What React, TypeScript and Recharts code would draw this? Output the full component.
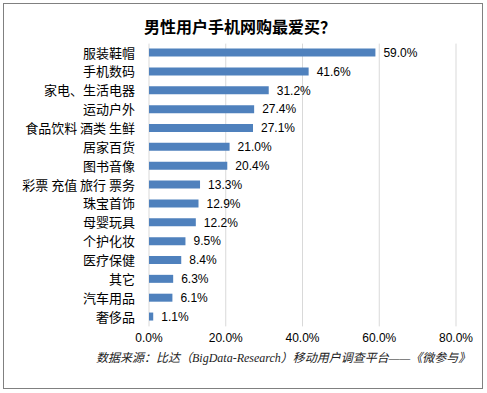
import React from 'react';
import { BarChart, Bar, XAxis, YAxis, CartesianGrid, LabelList } from 'recharts';

const categories = [
  '服装鞋帽',
  '手机数码',
  '家电、生活电器',
  '运动户外',
  '食品饮料 酒类 生鲜',
  '居家百货',
  '图书音像',
  '彩票 充值 旅行 票务',
  '珠宝首饰',
  '母婴玩具',
  '个护化妆',
  '医疗保健',
  '其它',
  '汽车用品',
  '奢侈品',
];
const shares = [59.0, 41.6, 31.2, 27.4, 27.1, 21.0, 20.4, 13.3, 12.9, 12.2, 9.5, 8.4, 6.3, 6.1, 1.1];
const xTicks = [0, 20, 40, 60, 80];

const title = '男性用户手机网购最爱买？';
const source = '数据来源：比达（BigData-Research）移动用户调查平台——《微参与》';

const data = categories.map((name, i) => ({ name, value: shares[i] }));

const pct = (v: number) => `${Number(v).toFixed(1)}%`;

export default function App() {
  return (
    <div style={{ position: 'absolute', left: 0, top: 0, width: 487, height: 393, background: '#fff' }}>
      {/* outer frame */}
      <div
        style={{
          position: 'absolute',
          left: 3,
          top: 3,
          width: 478,
          height: 384,
          border: '1px solid #808080',
        }}
      />
      <div
        style={{
          position: 'absolute',
          left: 0,
          width: 480,
          top: 16,
          textAlign: 'center',
          fontFamily: '"Noto Sans CJK SC", sans-serif',
          fontWeight: 'bold',
          fontSize: 16,
          lineHeight: '20px',
          color: '#000',
        }}
      >
        {title}
      </div>
      <BarChart
        width={487}
        height={393}
        data={data}
        layout="vertical"
        margin={{ top: 43.6, right: 31, left: 0, bottom: 36.6 }}
      >
        <CartesianGrid horizontal={false} stroke="#D9D9D9" />
        <XAxis
          type="number"
          domain={[0, 80]}
          ticks={xTicks}
          tickFormatter={pct}
          axisLine={false}
          tickLine={false}
          tickSize={0}
          tickMargin={7}
          height={30}
          tick={{ fill: '#000', fontSize: 12, fontFamily: '"Liberation Sans", Arial, sans-serif' }}
        />
        <YAxis
          type="category"
          dataKey="name"
          width={149}
          axisLine={false}
          tickLine={false}
          tickSize={0}
          tickMargin={14}
          interval={0}
          tick={{ fill: '#000', fontSize: 13, fontFamily: '"Noto Sans CJK SC", sans-serif' }}
        />
        <Bar dataKey="value" fill="#4F81BD" barSize={8} isAnimationActive={false}>
          <LabelList
            dataKey="value"
            position="right"
            offset={8}
            formatter={pct}
            style={{ fill: '#000', fontSize: 12, fontFamily: '"Liberation Sans", Arial, sans-serif' }}
          />
        </Bar>
      </BarChart>
      <div
        style={{
          position: 'absolute',
          left: 96,
          top: 351,
          whiteSpace: 'nowrap',
          fontFamily: '"Liberation Serif", "Noto Sans CJK SC", serif',
          fontStyle: 'italic',
          fontSize: 12,
          lineHeight: '15px',
          color: '#222',
        }}
      >
        {source}
      </div>
    </div>
  );
}
